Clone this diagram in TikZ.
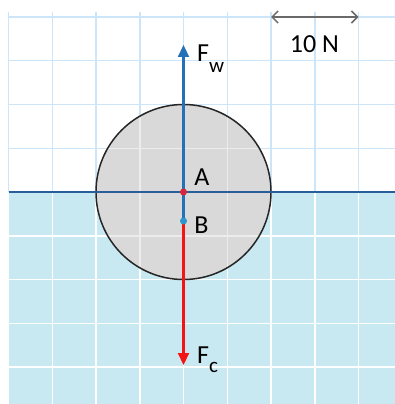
\documentclass[tikz,border=0pt]{standalone}
\usepackage{fontspec}
\setmainfont{Carlito}
\usetikzlibrary{arrows.meta}
\definecolor{gridblue}{RGB}{204,229,248}
\definecolor{water}{RGB}{200,233,242}
\definecolor{ballgray}{RGB}{217,217,217}
\definecolor{ballgrid}{RGB}{236,236,236}
\definecolor{fblue}{RGB}{36,113,184}
\definecolor{linedark}{RGB}{40,95,155}
\definecolor{fred}{RGB}{245,20,20}
\definecolor{dotred}{RGB}{215,35,60}
\definecolor{dotblue}{RGB}{45,150,205}
\definecolor{scalegray}{RGB}{105,105,105}
\begin{document}
\begin{tikzpicture}[x=1pt,y=-1pt,
  lab/.style={font=\fontsize{26}{26}\selectfont, inner sep=0pt},
  force/.style={line width=2.2pt, -{Triangle[length=12pt,width=11pt]}},
  gline/.style={line width=1.5pt}]
\useasboundingbox (0,0) rectangle (395,404);
\fill[white] (0,0) rectangle (395,404);
% dry grid
\foreach \i in {0,...,8} \draw[gridblue,gline] ({8.5+43.75*\i},12) -- ({8.5+43.75*\i},192);
\foreach \j in {0,...,3} \draw[gridblue,gline] (8.5,{17+43.75*\j}) -- (395,{17+43.75*\j});
% water
\fill[water] (8.5,192) rectangle (395,404);
\foreach \i in {0,...,8} \draw[white,gline] ({8.5+43.75*\i},192) -- ({8.5+43.75*\i},404);
\foreach \j in {5,...,8} \draw[white,gline] (8.5,{17+43.75*\j}) -- (395,{17+43.75*\j});
% ball
\coordinate (A) at (183.5,192);
\coordinate (B) at (183.5,221);
\fill[ballgray] (A) circle[radius=87.5];
\begin{scope}
\clip (A) circle[radius=87.5];
\foreach \i in {0,...,8} \draw[ballgrid,gline] ({8.5+43.75*\i},12) -- ({8.5+43.75*\i},404);
\foreach \j in {0,...,8} \draw[ballgrid,gline] (8.5,{17+43.75*\j}) -- (395,{17+43.75*\j});
\end{scope}
\draw[line width=1.5pt, black!85] (A) circle[radius=87.5];
% water surface
\draw[linedark, line width=1.6pt] (8.5,192) -- (395,192);
% forces
\coordinate (topTip) at (183.5,45);
\coordinate (botTip) at (183.5,365);
\draw[force, fred] (B) -- (botTip);
\draw[force, fblue] (B) -- (topTip);
\fill[dotred] (A) circle[radius=3.5];
\fill[dotblue] (B) circle[radius=3.5];
% labels
\node[lab] (la) at (202,177) {A};
\node[lab] (lb) at (201.5,225) {B};
\node[lab, anchor=base west] (fw) at (197,62) {F\raisebox{-10pt}{\fontsize{21}{21}\selectfont w}};
\node[lab, anchor=base west] (fc) at (197,363) {F\raisebox{-9pt}{\fontsize{21}{21}\selectfont c}};
% scale
\coordinate (s1) at (271,17);
\coordinate (s2) at (358.5,17);
\draw[scalegray, line width=1.5pt, {Straight Barb[length=6pt,width=12pt]}-{Straight Barb[length=6pt,width=12pt]}] (s1) -- (s2);
\node[lab] (ten) at (314.5,44) {10 N};
\end{tikzpicture}
\end{document}
